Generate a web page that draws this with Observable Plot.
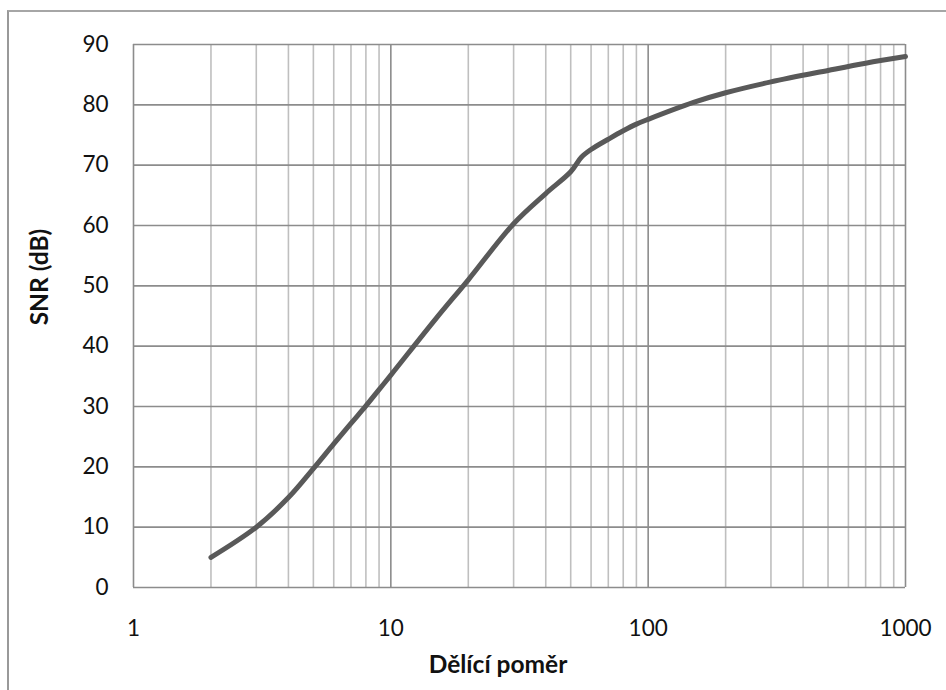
<!DOCTYPE html>
<html>
<head>
<meta charset="utf-8">
<script src="https://cdn.jsdelivr.net/npm/d3@7"></script>
<script src="https://cdn.jsdelivr.net/npm/@observablehq/plot@0.6"></script>
<style>
  html, body { margin: 0; padding: 0; background: #fff; overflow: hidden; }
  #wrap { position: relative; width: 946px; height: 690px; font-family: Lato, "Open Sans", sans-serif; }
  #border { position: absolute; left: 7px; top: 10px; width: 960px; height: 700px;
            border-top: 2px solid #a6a6a6; border-left: 2px solid #999; pointer-events: none; }
  .ttl { position: absolute; font-weight: bold; font-size: 24.5px; color: #111; white-space: nowrap; }
  #ytitle { left: 38px; top: 277px; transform: translate(-50%, -50%) rotate(-90deg); }
  #xtitle { left: 498px; top: 663px; transform: translate(-50%, -50%); }
</style>
</head>
<body>
<div id="wrap">
  <div id="chart"></div>
  <div id="border"></div>
  <div class="ttl" id="ytitle"></div>
  <div class="ttl" id="xtitle"></div>
</div>
<script>
// Data
const ratio = [2, 3, 4, 5, 6, 7, 8, 9, 10, 15, 20, 30, 40, 50, 55, 60, 70, 80, 90, 100, 150, 200, 300, 500, 700, 1000];
const snr   = [5, 10, 14.9, 19.7, 23.8, 27.2, 30.1, 32.8, 35.2, 44.6, 51, 60.3, 65.3, 68.9, 71.3, 72.6, 74.3, 75.7, 76.8, 77.6, 80.4, 82, 83.8, 85.7, 86.9, 88];
const xTicks = [1, 10, 100, 1000];
const yTicks = [0, 10, 20, 30, 40, 50, 60, 70, 80, 90];
const xTitle = "Dělící poměr";
const yTitle = "SNR (dB)";

const data = ratio.map((r, i) => ({ratio: r, snr: snr[i]}));
const minorTicks = [];
for (let d = 1; d < 1000; d *= 10) for (let k = 2; k <= 9; k++) minorTicks.push(d * k);

const chart = Plot.plot({
  width: 946,
  height: 690,
  marginLeft: 133,
  marginRight: 41,
  marginTop: 44,
  marginBottom: 103,
  style: {fontFamily: "Lato, 'Open Sans', sans-serif", fontSize: "22.5px", color: "#111", background: "transparent"},
  x: {type: "log", domain: [1, 1000], ticks: xTicks, tickFormat: d => String(d), tickSize: 0, tickPadding: 33, label: null},
  y: {domain: [0, 90], ticks: yTicks, tickSize: 0, tickPadding: 25, label: null},
  marks: [
    Plot.gridX(minorTicks, {stroke: "#bfbfbf", strokeOpacity: 1, strokeWidth: 1.6}),
    Plot.gridX(xTicks, {stroke: "#8c8c8c", strokeOpacity: 1, strokeWidth: 1.6}),
    Plot.gridY(yTicks, {stroke: "#8c8c8c", strokeOpacity: 1, strokeWidth: 1.6}),
    Plot.line(data, {x: "ratio", y: "snr", stroke: "#595959", strokeWidth: 5, curve: "catmull-rom", strokeLinecap: "round"})
  ]
});
document.getElementById("chart").appendChild(chart);
document.getElementById("ytitle").textContent = yTitle;
document.getElementById("xtitle").textContent = xTitle;
</script>
</body>
</html>
